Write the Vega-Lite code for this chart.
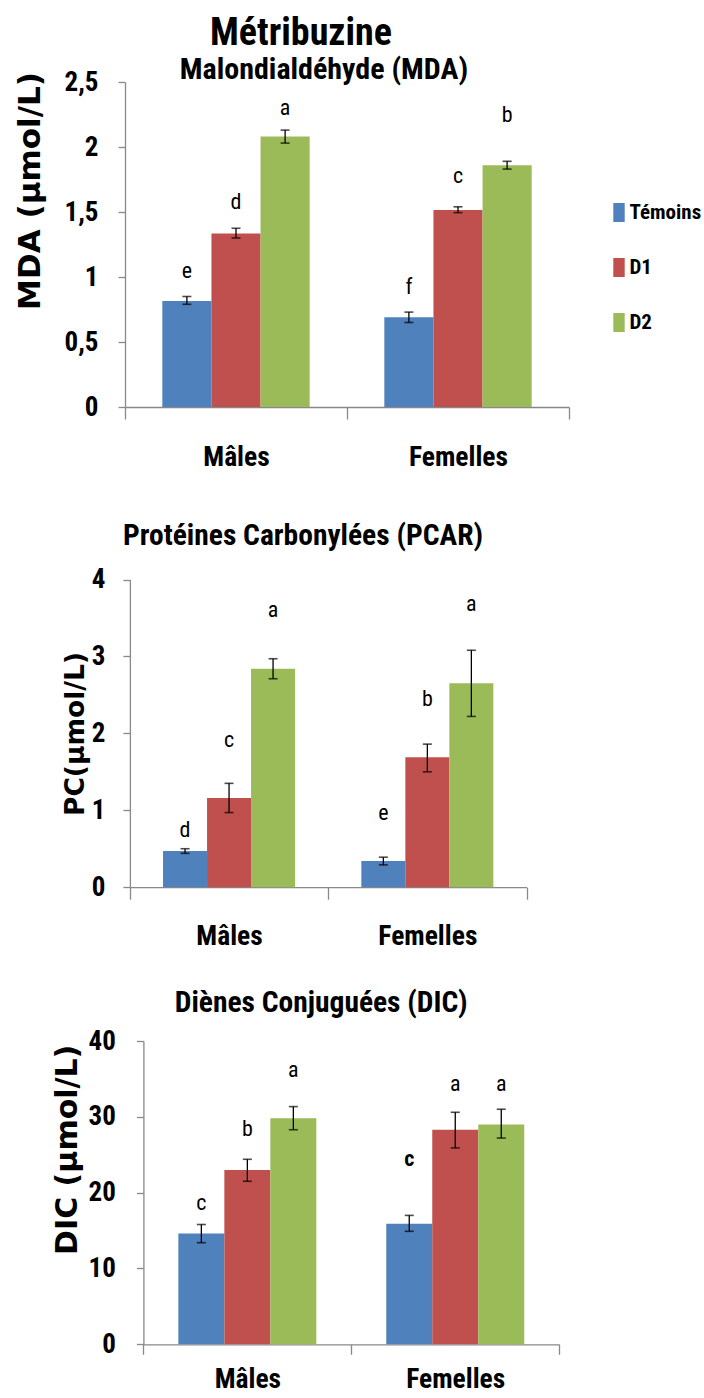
{
  "$schema": "https://vega.github.io/schema/vega-lite/v6.json",
  "autosize": {"type": "pad"},
  "padding": {"left": 14, "top": 14, "right": 20, "bottom": 0},
  "background": "white",
  "title": {"text": "Métribuzine", "fontSize": 38, "font": "Roboto Condensed, DejaVu Sans Condensed, Liberation Sans Narrow, Liberation Sans, sans-serif", "fontWeight": "bold", "color": "black", "anchor": "middle", "frame": "group", "dx": 176, "offset": 2},
  "bounds": "flush",
  "spacing": 153,
  "datasets": {
    "mda": [
      {"sexe": "Mâles", "groupe": "Témoins", "moyenne": 0.815, "bas": 0.79, "haut": 0.85, "lettre": "e", "lettre_y": 1.05},
      {"sexe": "Mâles", "groupe": "D1", "moyenne": 1.335, "bas": 1.30, "haut": 1.375, "lettre": "d", "lettre_y": 1.58},
      {"sexe": "Mâles", "groupe": "D2", "moyenne": 2.08, "bas": 2.03, "haut": 2.13, "lettre": "a", "lettre_y": 2.30},
      {"sexe": "Femelles", "groupe": "Témoins", "moyenne": 0.69, "bas": 0.65, "haut": 0.73, "lettre": "f", "lettre_y": 0.92},
      {"sexe": "Femelles", "groupe": "D1", "moyenne": 1.515, "bas": 1.495, "haut": 1.54, "lettre": "c", "lettre_y": 1.775},
      {"sexe": "Femelles", "groupe": "D2", "moyenne": 1.86, "bas": 1.83, "haut": 1.89, "lettre": "b", "lettre_y": 2.25}
    ],
    "pcar": [
      {"sexe": "Mâles", "groupe": "Témoins", "moyenne": 0.47, "bas": 0.44, "haut": 0.50, "lettre": "d", "lettre_y": 0.75},
      {"sexe": "Mâles", "groupe": "D1", "moyenne": 1.16, "bas": 0.97, "haut": 1.35, "lettre": "c", "lettre_y": 1.92},
      {"sexe": "Mâles", "groupe": "D2", "moyenne": 2.84, "bas": 2.71, "haut": 2.97, "lettre": "a", "lettre_y": 3.60},
      {"sexe": "Femelles", "groupe": "Témoins", "moyenne": 0.34, "bas": 0.29, "haut": 0.39, "lettre": "e", "lettre_y": 0.97},
      {"sexe": "Femelles", "groupe": "D1", "moyenne": 1.69, "bas": 1.50, "haut": 1.86, "lettre": "b", "lettre_y": 2.45},
      {"sexe": "Femelles", "groupe": "D2", "moyenne": 2.65, "bas": 2.22, "haut": 3.08, "lettre": "a", "lettre_y": 3.68}
    ],
    "dic": [
      {"sexe": "Mâles", "groupe": "Témoins", "moyenne": 14.6, "bas": 13.4, "haut": 15.8, "lettre": "c", "lettre_y": 18.6, "gras": false},
      {"sexe": "Mâles", "groupe": "D1", "moyenne": 23.0, "bas": 21.5, "haut": 24.4, "lettre": "b", "lettre_y": 28.4, "gras": false},
      {"sexe": "Mâles", "groupe": "D2", "moyenne": 29.8, "bas": 28.3, "haut": 31.35, "lettre": "a", "lettre_y": 36.2, "gras": false},
      {"sexe": "Femelles", "groupe": "Témoins", "moyenne": 15.9, "bas": 14.9, "haut": 17.0, "lettre": "c", "lettre_y": 24.5, "gras": true},
      {"sexe": "Femelles", "groupe": "D1", "moyenne": 28.3, "bas": 25.9, "haut": 30.6, "lettre": "a", "lettre_y": 34.3, "gras": false},
      {"sexe": "Femelles", "groupe": "D2", "moyenne": 29.0, "bas": 27.2, "haut": 31.0, "lettre": "a", "lettre_y": 34.3, "gras": false}
    ]
  },
  "resolve": {
    "scale": {"x": "independent", "y": "independent", "xOffset": "independent", "color": "independent"},
    "legend": {"color": "independent"}
  },
  "vconcat": [
    {
      "width": 444,
      "height": 325,
      "title": {"text": "Malondialdéhyde (MDA)", "fontSize": 30, "dx": -23, "offset": -16.5},
      "data": {"name": "mda"},
      "encoding": {
        "x": {"field": "sexe", "type": "nominal", "sort": ["Mâles", "Femelles"], "title": null,
              "scale": {"paddingInner": 0, "paddingOuter": 0},
              "axis": {"tickBand": "extent", "tickSize": 12, "labelPadding": 46, "labelBaseline": "alphabetic", "labelAngle": 0}},
        "xOffset": {"field": "groupe", "type": "nominal", "sort": ["Témoins", "D1", "D2"], "scale": {"paddingInner": 0, "paddingOuter": 0.76}}
      },
      "layer": [
        {
          "mark": {"type": "bar"},
          "encoding": {
            "y": {"field": "moyenne", "type": "quantitative", "title": "MDA (µmol/L)",
                  "scale": {"domain": [0, 2.5], "nice": false},
                  "axis": {"values": [0, 0.5, 1, 1.5, 2, 2.5], "format": "~g", "labelExpr": "replace(datum.label, '.', ',')", "tickSize": 7, "labelPadding": 20, "titleFontSize": 31, "titleX": -95, "titleY": 108.5}},
            "color": {"field": "groupe", "type": "nominal", "sort": ["Témoins", "D1", "D2"],
                      "scale": {"domain": ["Témoins", "D1", "D2"], "range": ["#4F81BD", "#C0504D", "#9BBB59"]},
                      "legend": {"orient": "none", "legendX": 483.5, "legendY": 120, "title": null, "symbolType": "M-0.6,-1H0.6V1H-0.6Z", "symbolSize": 361, "symbolStrokeWidth": 0, "labelFontSize": 21, "labelFont": "Roboto Condensed, DejaVu Sans Condensed, Liberation Sans Narrow, Liberation Sans, sans-serif", "labelFontWeight": "bold", "labelColor": "black", "rowPadding": 33, "labelOffset": 0, "labelLimit": 300}}
          }
        },
        {
          "mark": {"type": "rule", "color": "black", "strokeWidth": 1.3},
          "encoding": {"y": {"field": "bas", "type": "quantitative", "title": "MDA (µmol/L)"}, "y2": {"field": "haut"}}
        },
        {
          "mark": {"type": "tick", "color": "black", "size": 9, "thickness": 1.6},
          "encoding": {"y": {"field": "bas", "type": "quantitative", "title": "MDA (µmol/L)"}}
        },
        {
          "mark": {"type": "tick", "color": "black", "size": 9, "thickness": 1.6},
          "encoding": {"y": {"field": "haut", "type": "quantitative", "title": "MDA (µmol/L)"}}
        },
        {
          "mark": {"type": "text", "fontSize": 22, "font": "Roboto Condensed, DejaVu Sans Condensed, Liberation Sans Narrow, Liberation Sans, sans-serif", "color": "black", "baseline": "middle"},
          "encoding": {"y": {"field": "lettre_y", "type": "quantitative", "title": "MDA (µmol/L)"}, "text": {"field": "lettre"}}
        }
      ]
    },
    {
      "width": 401.5,
      "height": 327.2,
      "title": {"text": "Protéines Carbonylées (PCAR)", "fontSize": 29.5, "dx": -22.75, "offset": 9},
      "data": {"name": "pcar"},
      "encoding": {
        "x": {"field": "sexe", "type": "nominal", "sort": ["Mâles", "Femelles"], "title": null,
              "scale": {"paddingInner": 0, "paddingOuter": 0, "range": [4.9, 401.5]},
              "axis": {"tickBand": "extent", "tickSize": 12, "labelPadding": 45, "labelBaseline": "alphabetic", "labelAngle": 0}},
        "xOffset": {"field": "groupe", "type": "nominal", "sort": ["Témoins", "D1", "D2"], "scale": {"paddingInner": 0, "paddingOuter": 0.753}}
      },
      "layer": [
        {
          "mark": {"type": "bar"},
          "encoding": {
            "y": {"field": "moyenne", "type": "quantitative", "title": "PC(µmol/L)",
                  "scale": {"domain": [0, 4], "nice": false, "range": [327.2, 19.5]},
                  "axis": {"values": [0, 1, 2, 3, 4], "format": "~g", "tickSize": 7, "labelPadding": 18, "offset": -4.9, "titleFontSize": 26.5, "titleX": -54, "titleY": 173.5}},
            "color": {"field": "groupe", "type": "nominal", "sort": ["Témoins", "D1", "D2"],
                      "scale": {"domain": ["Témoins", "D1", "D2"], "range": ["#4F81BD", "#C0504D", "#9BBB59"]},
                      "legend": null}
          }
        },
        {
          "mark": {"type": "rule", "color": "black", "strokeWidth": 1.3},
          "encoding": {"y": {"field": "bas", "type": "quantitative", "title": "PC(µmol/L)"}, "y2": {"field": "haut"}}
        },
        {
          "mark": {"type": "tick", "color": "black", "size": 9, "thickness": 1.6},
          "encoding": {"y": {"field": "bas", "type": "quantitative", "title": "PC(µmol/L)"}}
        },
        {
          "mark": {"type": "tick", "color": "black", "size": 9, "thickness": 1.6},
          "encoding": {"y": {"field": "haut", "type": "quantitative", "title": "PC(µmol/L)"}}
        },
        {
          "mark": {"type": "text", "fontSize": 22, "font": "Roboto Condensed, DejaVu Sans Condensed, Liberation Sans Narrow, Liberation Sans, sans-serif", "color": "black", "baseline": "middle"},
          "encoding": {"y": {"field": "lettre_y", "type": "quantitative", "title": "PC(µmol/L)"}, "text": {"field": "lettre"}}
        }
      ]
    },
    {
      "width": 434.2,
      "height": 303.3,
      "title": {"text": "Diènes Conjuguées (DIC)", "fontSize": 29.5, "dx": -21, "offset": 9},
      "data": {"name": "dic"},
      "encoding": {
        "x": {"field": "sexe", "type": "nominal", "sort": ["Mâles", "Femelles"], "title": null,
              "scale": {"paddingInner": 0, "paddingOuter": 0, "range": [18.4, 434.2]},
              "axis": {"tickBand": "extent", "tickSize": 10, "labelPadding": 33, "labelBaseline": "alphabetic", "labelAngle": 0}},
        "xOffset": {"field": "groupe", "type": "nominal", "sort": ["Témoins", "D1", "D2"], "scale": {"paddingInner": 0, "paddingOuter": 0.76}}
      },
      "layer": [
        {
          "mark": {"type": "bar"},
          "encoding": {
            "y": {"field": "moyenne", "type": "quantitative", "title": "DIC (µmol/L)",
                  "scale": {"domain": [0, 40], "nice": false},
                  "axis": {"values": [0, 10, 20, 30, 40], "format": "~g", "tickSize": 7, "labelPadding": 21, "offset": -18.4, "titleFontSize": 30, "titleX": -76, "titleY": 108.3}},
            "color": {"field": "groupe", "type": "nominal", "sort": ["Témoins", "D1", "D2"],
                      "scale": {"domain": ["Témoins", "D1", "D2"], "range": ["#4F81BD", "#C0504D", "#9BBB59"]},
                      "legend": null}
          }
        },
        {
          "mark": {"type": "rule", "color": "black", "strokeWidth": 1.3},
          "encoding": {"y": {"field": "bas", "type": "quantitative", "title": "DIC (µmol/L)"}, "y2": {"field": "haut"}}
        },
        {
          "mark": {"type": "tick", "color": "black", "size": 9, "thickness": 1.6},
          "encoding": {"y": {"field": "bas", "type": "quantitative", "title": "DIC (µmol/L)"}}
        },
        {
          "mark": {"type": "tick", "color": "black", "size": 9, "thickness": 1.6},
          "encoding": {"y": {"field": "haut", "type": "quantitative", "title": "DIC (µmol/L)"}}
        },
        {
          "transform": [{"filter": "!datum.gras"}],
          "mark": {"type": "text", "fontSize": 22, "font": "Roboto Condensed, DejaVu Sans Condensed, Liberation Sans Narrow, Liberation Sans, sans-serif", "color": "black", "baseline": "middle"},
          "encoding": {"y": {"field": "lettre_y", "type": "quantitative", "title": "DIC (µmol/L)"}, "text": {"field": "lettre"}}
        },
        {
          "transform": [{"filter": "datum.gras"}],
          "mark": {"type": "text", "fontSize": 22, "font": "Roboto Condensed, DejaVu Sans Condensed, Liberation Sans Narrow, Liberation Sans, sans-serif", "fontWeight": "bold", "color": "black", "baseline": "middle"},
          "encoding": {"y": {"field": "lettre_y", "type": "quantitative", "title": "DIC (µmol/L)"}, "text": {"field": "lettre"}}
        }
      ]
    }
  ],
  "config": {
    "view": {"stroke": null},
    "title": {"font": "Roboto Condensed, DejaVu Sans Condensed, Liberation Sans Narrow, Liberation Sans, sans-serif", "fontWeight": "bold", "color": "black", "anchor": "middle"},
    "axis": {
      "grid": false,
      "domainColor": "#898989",
      "tickColor": "#898989",
      "domainWidth": 1.3,
      "tickWidth": 1.3,
      "labelFont": "Roboto Condensed, DejaVu Sans Condensed, Liberation Sans Narrow, Liberation Sans, sans-serif",
      "labelFontWeight": "bold",
      "labelFontSize": 27.5,
      "labelColor": "black",
      "titleFont": "DejaVu Sans",
      "titleFontWeight": "bold",
      "titleColor": "black",
      "titleAngle": 270,
      "titleAlign": "center",
      "titleBaseline": "middle"
    },
    "axisY": {"labelFontSize": 27}
  }
}
